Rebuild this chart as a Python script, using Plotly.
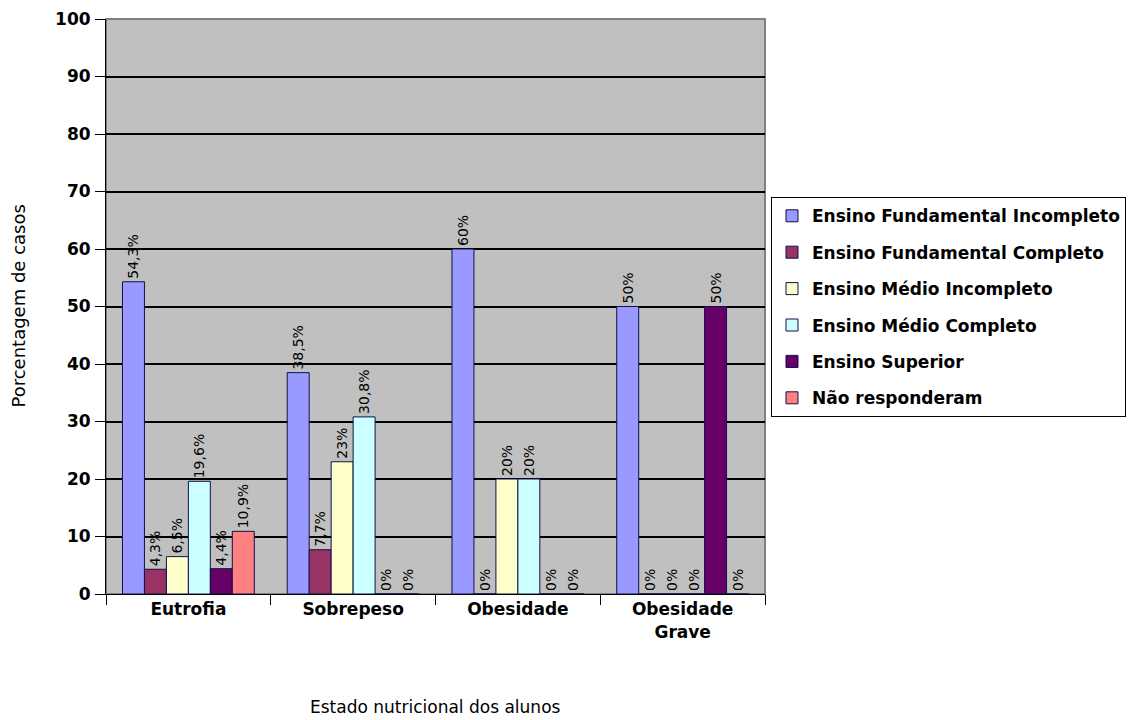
import plotly.graph_objects as go

# Nutritional status categories (x axis)
categorias = ["Eutrofia", "Sobrepeso", "Obesidade", "Obesidade<br>Grave"]

# Schooling level series (percentage of cases per category)
series = [
    "Ensino Fundamental Incompleto",
    "Ensino Fundamental Completo",
    "Ensino Médio Incompleto",
    "Ensino Médio Completo",
    "Ensino Superior",
    "Não responderam",
]
fund_incompleto = [54.3, 38.5, 60, 50]
fund_completo = [4.3, 7.7, 0, 0]
medio_incompleto = [6.5, 23, 20, 0]
medio_completo = [19.6, 30.8, 20, 0]
superior = [4.4, 0, 0, 50]
nao_responderam = [10.9, 0, 0, 0]

valores = [fund_incompleto, fund_completo, medio_incompleto,
           medio_completo, superior, nao_responderam]
cores = ["#9999FF", "#993366", "#FFFFCC", "#CCFFFF", "#660066", "#FF8080"]

y_ticks = list(range(0, 101, 10))


def rotulo(v):
    """Percentage label with a decimal comma, e.g. 54,3%."""
    return f"{v:g}".replace(".", ",") + "%"


fig = go.Figure()
for nome, vals, cor in zip(series, valores, cores):
    fig.add_trace(go.Bar(
        name=nome,
        x=categorias,
        y=vals,
        text=[rotulo(v) for v in vals],
        textposition="outside",
        textangle=-90,
        constraintext="none",
        cliponaxis=False,
        textfont=dict(family="DejaVu Sans", size=14, color="#000000"),
        marker=dict(color=cor, line=dict(color="#10104a", width=1)),
        legendgroup=nome,
        hoverinfo="skip",
    ))

bold = dict(family="DejaVu Sans", size=17, color="#000000", weight="bold")

fig.update_layout(
    width=1128,
    height=720,
    margin=dict(l=106, r=363, t=19, b=126, autoexpand=False),
    paper_bgcolor="#FFFFFF",
    plot_bgcolor="#C0C0C0",
    barmode="group",
    bargap=0.2,
    bargroupgap=0,
    font=dict(family="DejaVu Sans", color="#000000"),
    legend=dict(
        x=1.0091, y=0.690, xanchor="left", yanchor="top",
        bordercolor="#000000", borderwidth=1,
        bgcolor="#FFFFFF",
        font=bold,
        traceorder="grouped",
        tracegroupgap=11.3,
        itemclick=False,
    ),
    xaxis=dict(
        showline=True, linecolor="#000000", linewidth=1,
        ticks="outside", ticklen=10, tickcolor="#000000",
        tickson="boundaries",
        tickfont=bold,
        showgrid=False,
    ),
    yaxis=dict(
        range=[0, 100],
        tickvals=y_ticks,
        showline=True, linecolor="#000000", linewidth=1,
        ticks="outside", ticklen=10, tickcolor="#000000",
        tickfont=bold,
        showgrid=True, gridcolor="#000000", gridwidth=1.5,
        zeroline=False,
        ticklabelstandoff=1,
    ),
    shapes=[dict(
        type="rect", xref="paper", yref="paper", x0=0, x1=1, y0=0, y1=1,
        line=dict(color="#808080", width=2), layer="below",
    )],
    annotations=[
        dict(text="Estado nutricional dos alunos", xref="paper", yref="paper",
             x=0.5, y=-0.197, xanchor="center", yanchor="middle",
             showarrow=False,
             font=dict(family="DejaVu Sans", size=17, color="#000000")),
        dict(text="Porcentagem de casos", xref="paper", yref="paper",
             x=-0.1335, y=0.5, xanchor="center", yanchor="middle",
             textangle=-90, showarrow=False,
             font=dict(family="DejaVu Sans", size=18, color="#000000")),
    ],
)

fig.write_html("out.html")
